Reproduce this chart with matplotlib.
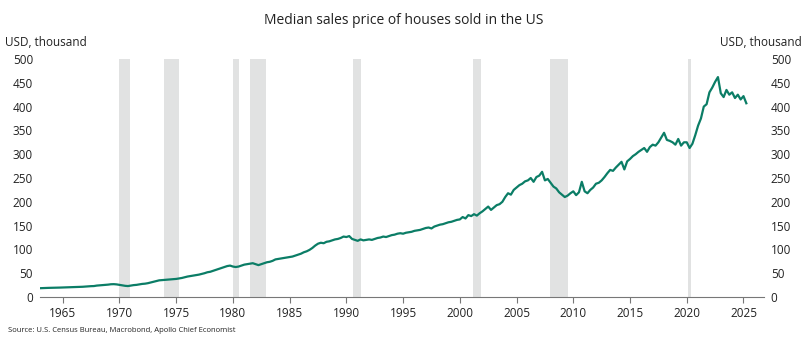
import matplotlib
matplotlib.use("Agg")
import matplotlib.pyplot as plt
import numpy as np

plt.rcParams['font.family'] = ['Open Sans', 'DejaVu Sans']

start_year = 1963
# quarterly median sales price, USD thousand
prices = [
    18.5, 18.8, 19, 19.2,
    19.3, 19.5, 19.4, 19.8,
    20, 20.3, 20.2, 20.6,
    21, 21.2, 21, 21.5,
    22, 22.5, 22.8, 23,
    24, 24.5, 25, 25.5,
    26, 26.8, 27, 26.5,
    25.5, 24.5, 23.5, 23,
    24, 25, 25.5, 26.5,
    27.5, 28, 29, 30.5,
    32, 33.5, 35, 35.5,
    36, 36.5, 37, 37.5,
    38, 39, 40, 41.5,
    43, 44, 45, 46,
    47, 48.5, 50, 52,
    53, 55, 57, 59,
    61, 63, 65, 66,
    64, 63, 64, 66,
    68, 69, 70, 71,
    69, 67, 69, 71,
    73, 74, 76, 79,
    80, 81, 82, 83,
    84, 85, 87, 89,
    91, 94, 96, 99,
    103, 108, 112, 114,
    113, 116, 117, 119,
    121, 122, 124, 127,
    126, 128, 122, 120,
    118, 121, 119, 120,
    121, 120, 122, 124,
    125, 127, 126, 128,
    130, 131, 133, 134,
    133, 135, 136, 137,
    139, 140, 141, 143,
    145, 146, 144, 148,
    150, 152, 153, 155,
    157, 158, 160, 162,
    163, 168, 165, 172,
    170, 174, 171, 176,
    180, 185, 190, 183,
    188, 193, 195, 200,
    210, 218, 215, 225,
    230, 235, 238, 243,
    245, 250, 242, 252,
    255, 263, 245, 248,
    240, 232, 228, 220,
    215, 210, 213, 218,
    222, 214, 220, 242,
    222, 218, 225, 230,
    238, 240, 245, 252,
    260, 267, 265, 272,
    278, 284, 268, 285,
    290, 296, 300, 305,
    309, 313, 305, 315,
    320, 318, 325, 335,
    345, 330, 328, 325,
    320, 332, 318, 325,
    325, 313, 322, 340,
    360, 375, 400, 405,
    430, 440, 452, 462,
    428, 420, 435, 425,
    430, 418, 425, 415,
    422, 407,
]

# recession periods (start, end) in decimal years
rec_start = [1969.95, 1973.92, 1980.05, 1981.55, 1990.55, 2001.2, 2007.95, 2020.12]
rec_end = [1970.9, 1975.25, 1980.55, 1982.9, 1991.25, 2001.9, 2009.5, 2020.35]

xticks = [1965, 1970, 1975, 1980, 1985, 1990, 1995, 2000, 2005, 2010, 2015, 2020, 2025]
yticks = [0, 50, 100, 150, 200, 250, 300, 350, 400, 450, 500]

t = start_year + np.arange(len(prices)) / 4.0

fig = plt.figure(figsize=(8.07, 3.41), dpi=100)
ax = fig.add_axes([0.0496, 0.129, 0.897, 0.698])

for s, e in zip(rec_start, rec_end):
    ax.axvspan(s, e, color='#e1e2e2', lw=0, zorder=0)

ax.plot(t, prices, color='#0b7d66', lw=1.6, zorder=3)

ax.set_xlim(1963, 2026.8)
ax.set_ylim(0, 500)
ax.set_xticks(xticks)
ax.set_xticklabels([str(x) for x in xticks], fontsize=8.5, color='#222222')
ax.set_yticks(yticks)
ax.set_yticklabels([str(y) for y in yticks], fontsize=8.5, color='#222222')
ax.tick_params(axis='x', length=4, color='#777777', width=0.8, pad=3)
ax.tick_params(axis='y', length=0, pad=5, labelright=True, right=False)

for sp in ['top', 'left', 'right']:
    ax.spines[sp].set_visible(False)
ax.spines['bottom'].set_color('#777777')
ax.spines['bottom'].set_linewidth(0.8)

fig.text(0.5, 0.94, 'Median sales price of houses sold in the US', ha='center', va='center',
         fontsize=10, color='#222222')
fig.text(0.006, 0.875, 'USD, thousand', ha='left', va='center', fontsize=8.5, color='#222222')
fig.text(0.994, 0.875, 'USD, thousand', ha='right', va='center', fontsize=8.5, color='#222222')
fig.text(0.01, 0.03, 'Source: U.S. Census Bureau, Macrobond, Apollo Chief Economist', ha='left',
         va='center', fontsize=5.5, color='#222222')

fig.savefig('out.png', dpi=100)
